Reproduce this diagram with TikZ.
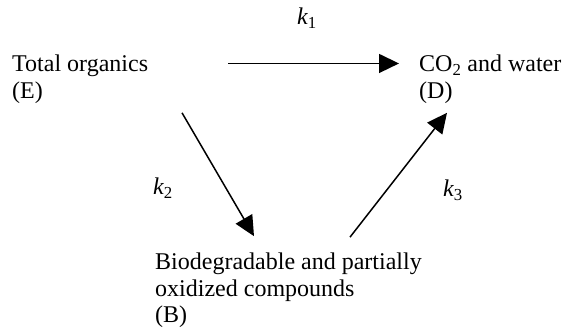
\documentclass[tikz,border=0pt]{standalone}
\usepackage{amsmath}
\usepackage{fontspec}
\setmainfont{Liberation Serif}
\usepackage{tikz}
\usetikzlibrary{arrows.meta, positioning, calc}

\begin{document}
\begin{tikzpicture}[x=1pt, y=1pt,
    species/.style={anchor=base west, inner sep=0pt, align=left, font=\fontsize{24}{26.5}\selectfont},
    rate/.style={anchor=base west, inner sep=0pt, font=\fontsize{24}{26.5}\selectfont},
    flow/.style={line width=1.5pt, -{Triangle[length=20pt, width=19pt]}}]
  \useasboundingbox (0,0) rectangle (562,336);
  % species
  \node[species] (E) at (12,237.5) {Total organics\\(E)};
  \node[species] (D) at (419,237.5) {CO$_{\text{2}}$ and water\\(D)};
  \node[species] (B) at (155,13) {Biodegradable and partially\\oxidized compounds\\(B)};
  % rate constants
  \node[rate] (k1) at (297,311) {$\text{\itshape k}_{\text{1}}$};
  \node[rate] (k2) at (153,141) {$\text{\itshape k}_{\text{2}}$};
  \node[rate] (k3) at (443,139) {$\text{\itshape k}_{\text{3}}$};
  % reactions
  \draw[flow] ([xshift=80pt, yshift=16pt]E.east) -- ([xshift=-20pt, yshift=16pt]D.west);
  \draw[flow] ([shift={(170pt,-9pt)}]E.south west) -- ([shift={(99pt,17pt)}]B.north west);
  \draw[flow] ([shift={(195pt,16pt)}]B.north west) -- ([shift={(28pt,-9pt)}]D.south west);
\end{tikzpicture}
\end{document}
